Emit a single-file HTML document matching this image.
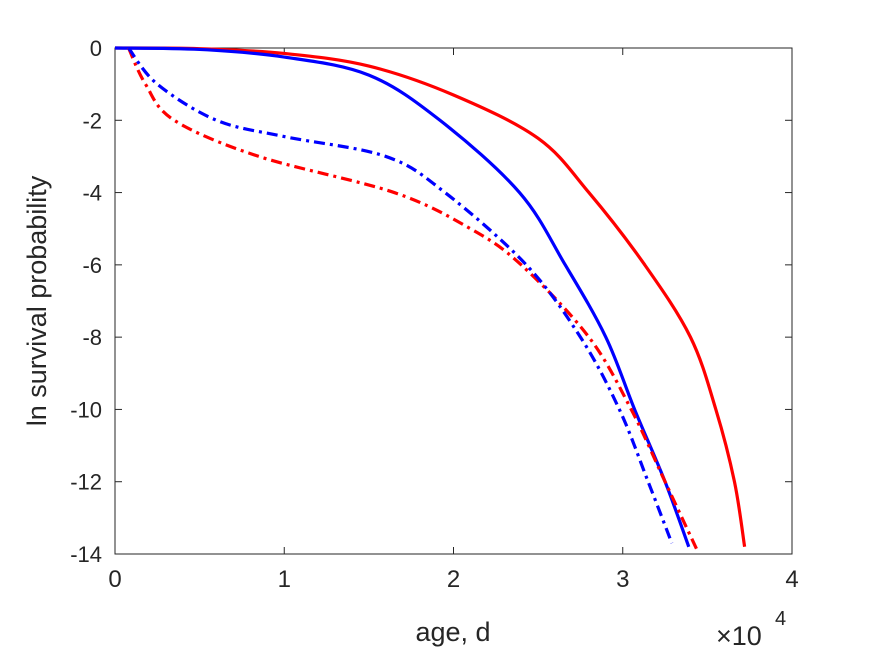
<!DOCTYPE html>
<html><head><meta charset="utf-8"><style>
body{margin:0;background:#fff;}
svg text{font-family:"Liberation Sans",sans-serif;fill:#262626;}
</style></head><body>
<svg width="875" height="656" viewBox="0 0 875 656" xmlns="http://www.w3.org/2000/svg">
<rect width="875" height="656" fill="#fff"/>
<g id="plot"></g>
</svg>
<script>
const xTicks=[0,1,2,3,4];
const yTicks=[0,-2,-4,-6,-8,-10,-12,-14];
const redSolidX=[0,0.5,1,1.5,2,2.5,2.8,3.13,3.4,3.55,3.66,3.72];
const redSolidY=[0,-0.02,-0.15,-0.5,-1.3,-2.5,-4,-6,-8,-10,-12,-13.8];
const blueSolidX=[0,0.5,1,1.5,1.92,2.39,2.66,2.9,3.07,3.25,3.39];
const blueSolidY=[0,-0.04,-0.25,-0.75,-2,-4,-6,-8,-10,-12,-13.8];
const blueDashX=[0.08,0.25,0.6,1,1.6,1.95,2.43,2.75,2.98,3.15,3.29];
const blueDashY=[0,-1,-2,-2.45,-3,-4,-6,-8,-10,-12,-13.7];
const redDashX=[0.08,0.18,0.35,0.85,1.65,2.1,2.4,2.8,3.05,3.25,3.44];
const redDashY=[0,-1,-2,-3,-4,-5,-6,-8,-10,-12,-13.9];
const L=115,R=792,T=48,B=554;
const sx=v=>L+(v-0)/(4-0)*(R-L);
const sy=v=>T+(0-v)/(0+14)*(B-T);
const NS="http://www.w3.org/2000/svg";
const g=document.getElementById('plot');
function mk(t,a){const e=document.createElementNS(NS,t);for(const k in a)e.setAttribute(k,a[k]);return e;}
const box=mk('rect',{x:L,y:T,width:R-L,height:B-T,fill:'none',stroke:'#262626','stroke-width':1});


g.appendChild(box);
xTicks.forEach(v=>{
  const x=sx(v);
  const t1=mk('line',{x1:x,x2:x,y1:B,y2:B-7,stroke:'#262626'});
  
  
  g.appendChild(t1);
  const t2=mk('line',{x1:x,x2:x,y1:T,y2:T+7,stroke:'#262626'});
  
  
  g.appendChild(t2);
  const tx=mk('text',{x:x,y:B+33,'font-size':24,'text-anchor':'middle'});tx.textContent=v;
  
  
  g.appendChild(tx);
});
yTicks.forEach(v=>{
  const y=sy(v);
  const t1=mk('line',{x1:L,x2:L+7,y1:y,y2:y,stroke:'#262626'});
  
  
  g.appendChild(t1);
  const t2=mk('line',{x1:R,x2:R-7,y1:y,y2:y,stroke:'#262626'});
  
  
  g.appendChild(t2);
  const tx=mk('text',{x:L-13,y:y+8,'font-size':22,'text-anchor':'end'});tx.textContent=v===0?'0':'-'+Math.abs(v);
  
  
  g.appendChild(tx);
});
function path(xs,ys){
  const p=xs.map((x,i)=>[sx(x),sy(ys[i])]);
  let d='M'+p[0][0]+','+p[0][1];
  for(let i=0;i<p.length-1;i++){
    const p0=p[i-1]||p[i],p1=p[i],p2=p[i+1],p3=p[i+2]||p2;
    const c1=[p1[0]+(p2[0]-p0[0])/6,p1[1]+(p2[1]-p0[1])/6];
    const c2=[p2[0]-(p3[0]-p1[0])/6,p2[1]-(p3[1]-p1[1])/6];
    d+=' C'+c1+' '+c2+' '+p2;
  }
  return d;
}
function series(xs,ys,color,dash,name){
  const e=mk('path',{d:path(xs,ys),fill:'none',stroke:color,'stroke-width':3.2});
  if(dash)e.setAttribute('stroke-dasharray','11,5,3,5');
  
  
  g.appendChild(e);
}
series(redSolidX,redSolidY,'#ff0000',false,'red-solid-line');
series(blueSolidX,blueSolidY,'#0000ff',false,'blue-solid-line');
series(redDashX,redDashY,'#ff0000',true,'red-dashdot-line');
series(blueDashX,blueDashY,'#0000ff',true,'blue-dashdot-line');
const xl=mk('text',{x:453,y:641,'font-size':27,'text-anchor':'middle'});xl.textContent='age, d';


g.appendChild(xl);
const yl=mk('text',{x:0,y:0,'font-size':27,'text-anchor':'middle',transform:'translate(46,301) rotate(-90)'});yl.textContent='ln survival probability';


g.appendChild(yl);
const ex=mk('text',{x:716,y:645,'font-size':27});ex.textContent='×10';


g.appendChild(ex);
const ex2=mk('text',{x:775,y:625,'font-size':20});ex2.textContent='4';


g.appendChild(ex2);
</script>
</body></html>
